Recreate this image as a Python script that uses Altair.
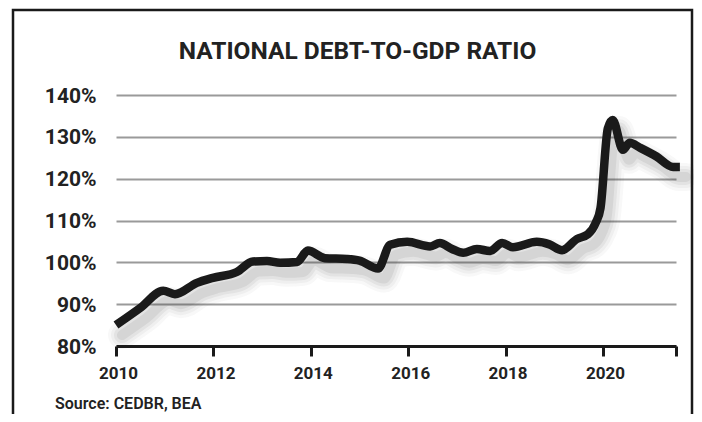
import altair as alt
import pandas as pd

# Data (national debt-to-GDP ratio, %)
years = [2010.0, 2010.5, 2010.97, 2011.21, 2011.66, 2011.99, 2012.48, 2012.81,
         2013.1, 2013.37, 2013.72, 2013.94, 2014.29, 2014.74, 2015.0, 2015.38,
         2015.63, 2015.98, 2016.45, 2016.65, 2016.9, 2017.13, 2017.41, 2017.68,
         2017.93, 2018.15, 2018.64, 2018.9, 2019.16, 2019.47, 2019.69, 2019.85,
         2019.95, 2020.1, 2020.2, 2020.41, 2020.55, 2020.76, 2021.1, 2021.44, 2021.58]
ratio = [85.0, 89.1, 93.2, 92.4, 95.1, 96.3, 97.7, 100.2,
         100.3, 99.9, 100.1, 102.8, 101.0, 100.8, 100.4, 98.5,
         104.2, 104.9, 103.8, 104.6, 103.2, 102.3, 103.2, 102.7,
         104.6, 103.6, 104.9, 104.3, 102.9, 105.6, 106.7, 109.4,
         113.0, 132.0, 134.0, 126.9, 128.6, 127.4, 125.3, 122.8, 122.8]

x_ticks = [2010, 2012, 2014, 2016, 2018, 2020, 2021.5]
y_ticks = [80, 90, 100, 110, 120, 130, 140]

title_text = "NATIONAL DEBT-TO-GDP RATIO"
source_text = "Source: CEDBR, BEA"

df = pd.DataFrame({"year": years, "ratio": ratio})
one = pd.DataFrame({"k": [0]})

FONT = "Roboto"

x_enc = alt.X("year:Q",
              scale=alt.Scale(domain=[2010, 2021.5], nice=False, zero=False),
              axis=alt.Axis(values=x_ticks, format="d",
                            labelExpr="datum.value == 2021.5 ? '' : datum.label",
                            title=None, grid=False, labelFlush=False,
                            domainColor="#1a1a1a", domainWidth=3,
                            tickColor="#1a1a1a", tickWidth=3, tickSize=10,
                            labelFont=FONT, labelFontSize=17, labelFontWeight="bold",
                            labelColor="#222222", labelPadding=9, labelOffset=2))
y_enc = alt.Y("ratio:Q",
              scale=alt.Scale(domain=[80, 140], nice=False, zero=False),
              axis=alt.Axis(values=y_ticks, labelExpr="datum.value + '%'",
                            title=None, domain=False, ticks=False,
                            gridColor="#9a9a9a", gridWidth=2,
                            labelFont=FONT, labelFontSize=21, labelFontWeight="bold",
                            labelColor="#222222", labelPadding=20, labelOffset=1))

base = alt.Chart(df)

shadows = [
    base.mark_line(color="#333333", opacity=op, strokeWidth=sw, strokeJoin="round",
                   strokeCap="round", interpolate="monotone", xOffset=6, yOffset=10)
    .encode(x=x_enc, y=y_enc)
    for sw, op in [(28, 0.035), (22, 0.045), (16, 0.06), (10, 0.08)]
]

line = base.mark_line(color="#1a1a1a", strokeWidth=8.5, strokeJoin="round",
                      strokeCap="butt", interpolate="monotone").encode(x=x_enc, y=y_enc)

frame = alt.Chart(one).mark_rect(filled=False, stroke="#1a1a1a", strokeWidth=2.5).encode(
    x=alt.value(-103), x2=alt.value(576), y=alt.value(-85), y2=alt.value(330))

title = alt.Chart(one).mark_text(font=FONT, fontSize=24.5, fontWeight="bold", color="#222222",
                                 align="center", baseline="alphabetic").encode(
    x=alt.value(241.5), y=alt.value(-36), text=alt.value(title_text))

source = alt.Chart(one).mark_text(font=FONT, fontSize=16, fontWeight=600, color="#222222",
                                  align="left", baseline="alphabetic").encode(
    x=alt.value(-61), y=alt.value(314), text=alt.value(source_text))

chart = alt.layer(frame, *shadows, line, title, source).properties(
    width=560, height=251,
    autosize=alt.AutoSizeParams(type="none"),
    padding={"left": 108, "top": 87, "right": 18, "bottom": 68},
    background="white",
).configure_view(stroke=None)

chart.save("out.html", embed_options={"renderer": "svg", "actions": False})
